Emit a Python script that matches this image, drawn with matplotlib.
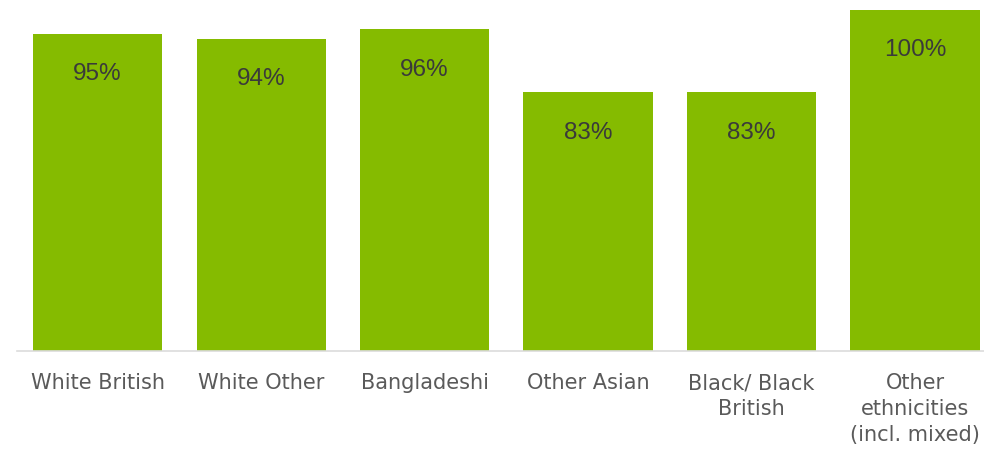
import matplotlib
matplotlib.use("Agg")
import matplotlib.pyplot as plt

categories = ["White British", "White Other", "Bangladeshi", "Other Asian",
              "Black/ Black\nBritish", "Other\nethnicities\n(incl. mixed)"]
values = [95, 94, 96, 83, 83, 100]
labels = ["95%", "94%", "96%", "83%", "83%", "100%"]

GREEN = "#85bb00"
fig = plt.figure(figsize=(9.84, 4.5), dpi=100)
ax = fig.add_axes([17 / 984, 99 / 450, 967 / 984, 341 / 450])

x = list(range(len(categories)))
ax.bar(x, values, width=0.79, color=GREEN, zorder=2)
ax.set_xlim(-0.493, 5.422)
ax.set_ylim(29.5, 100)

for xi, v, lab in zip(x, values, labels):
    ax.annotate(lab, (xi, v), xytext=(0, -29), textcoords="offset points",
                ha="center", va="center", fontsize=17.5, color="#3a3a3a",
                family="Liberation Sans")

ax.set_xticks(x)
ax.set_xticklabels(categories, fontsize=15, color="#5a5a5a", linespacing=1.38)
ax.tick_params(axis="x", length=0, pad=16)
ax.set_yticks([])
for s in ["top", "right", "left"]:
    ax.spines[s].set_visible(False)
ax.spines["bottom"].set_color("#dcdcdc")
ax.spines["bottom"].set_linewidth(1.2)

fig.savefig("out.png", dpi=100)
